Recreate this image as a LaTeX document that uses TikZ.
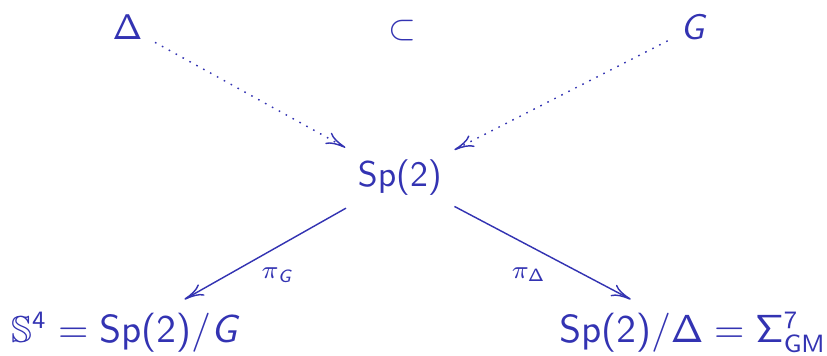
\documentclass[tikz,border=0pt]{standalone}
\usepackage{amssymb}
\usepackage{tikz}
\usetikzlibrary{arrows.meta}
\definecolor{slideBlue}{RGB}{51,51,178}
\SetSymbolFont{operators}{normal}{OT1}{cmss}{m}{n}
\DeclareMathAlphabet{\mathsfit}{OT1}{cmss}{m}{sl}
\tikzset{
    objnode/.style={text=slideBlue, anchor=base},
    bignode/.style={objnode, font=\fontsize{10.5}{12}\selectfont},
    projline/.style={-{Computer Modern Rightarrow[length=5.5pt, width=3.6pt]}, draw=slideBlue},
    inclline/.style={-{Computer Modern Rightarrow[length=5.5pt, width=3.6pt]}, draw=slideBlue, dash pattern=on 0.45pt off 1.75pt},
    maplabel/.style={text=slideBlue}
}

\begin{document}
\begin{tikzpicture}
    \useasboundingbox (0,0) rectangle (8.14,3.50);
    \node[objnode] (delta) at (1.255,3.11) {$\Delta$};
    \node[objnode] (subset) at (3.956,3.11) {$\subset$};
    \node[objnode] (gee) at (6.834,3.11) {$\mathsfit{G}$};
    \node[objnode] (sp) at (3.936,1.663) {$\mathrm{Sp}(2)$};
    \node[bignode] (sphere) at (1.245,0.128) {$\mathbb{S}^4=\mathrm{Sp}(2)/\mathsfit{G}$};
    \node[bignode] (quot) at (6.82,0.128) {$\mathrm{Sp}(2)/\Delta=\Sigma^7_{\mathrm{GM}}$};
    \draw[inclline] (delta) -- (sp);
    \draw[inclline] (gee) -- (sp);
    \draw[projline] (sp) -- node[maplabel, below, xshift=3.6pt, yshift=-0.5pt] {$\scriptstyle\pi_{\mathsfit{G}}$} (sphere);
    \draw[projline] (sp) -- node[maplabel, below, xshift=-3.9pt, yshift=-0.5pt] {$\scriptstyle\pi_{\Delta}$} (quot);
\end{tikzpicture}
\end{document}
